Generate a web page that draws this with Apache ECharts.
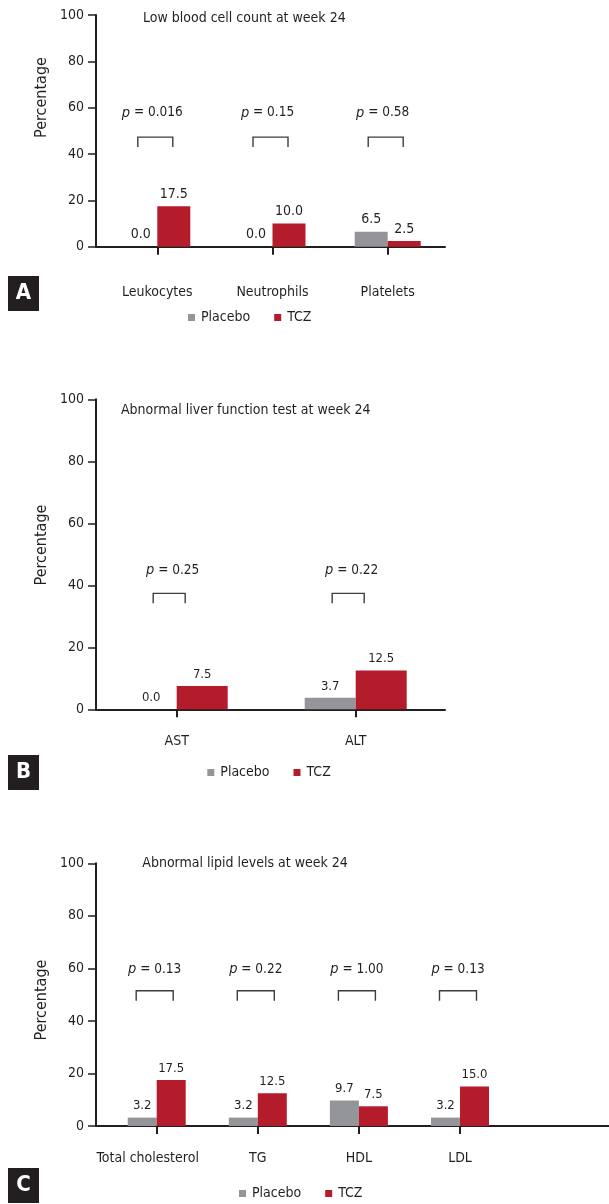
<!DOCTYPE html>
<html>
<head>
<meta charset="utf-8">
<script src="https://cdn.jsdelivr.net/npm/echarts@6/dist/echarts.min.js"></script>
<style>html,body{margin:0;padding:0;background:#fff}#c{width:609px;height:1204px}</style>
</head>
<body>
<div id="c"></div>
<script>
// ---- data ----
const catsA = ['Leukocytes', 'Neutrophils', 'Platelets'];
const placeboA = [0.0, 0.0, 6.5];
const tczA = [17.5, 10.0, 2.5];
const pA = ['0.016', '0.15', '0.58'];

const catsB = ['AST', 'ALT'];
const placeboB = [0.0, 3.7];
const tczB = [7.5, 12.5];
const pB = ['0.25', '0.22'];

const catsC = ['Total cholesterol', 'TG', 'HDL', 'LDL'];
const placeboC = [3.2, 3.2, 9.7, 3.2];
const tczC = [17.5, 12.5, 7.5, 15.0];
const pC = ['0.13', '0.22', '1.00', '0.13'];

const titles = ['Low blood cell count at week 24', 'Abnormal liver function test at week 24', 'Abnormal lipid levels at week 24'];
const letters = ['A', 'B', 'C'];
const seriesNames = ['Placebo', 'TCZ'];
const yMin = 0, yMax = 100, yStep = 20;

// ---- styles / layout ----
const FONT = "'DejaVu Sans Condensed','Liberation Sans Narrow','Liberation Sans',sans-serif";
const INK = '#231f20';
const GRAY = '#939598';
const RED = '#b41b2b';
const FS = 14;

const panels = [
  { cats: catsA, placebo: placeboA, tcz: tczA, p: pA,
    top: 15, bottom: 246.7, axisEnd: 445, barLeft: 99.7, barGridW: 345.6, barW: 33, labelMargin: 39,
    titleX: 143, titleY: 19, nameY: 97.5, boxY: 276, legendLeft: 188, legendTop: 310.5, valFont: 14,
    labelPad: [], br: { top: 47.3, w: 35, shift: -2, pY: 57.8, pShift: -5 } },
  { cats: catsB, placebo: placeboB, tcz: tczB, p: pB,
    top: 399.3, bottom: 709.3, axisEnd: 445, barLeft: 87.2, barGridW: 358, barW: 51, labelMargin: 25.4,
    titleX: 121, titleY: 411.7, nameY: 545, boxY: 755, legendLeft: 207.3, legendTop: 765.5, valFont: 13,
    labelPad: [], br: { top: 37.4, w: 32, shift: -7.5, pY: 44.8, pShift: -4 } },
  { cats: catsC, placebo: placeboC, tcz: tczC, p: pC,
    top: 863.3, bottom: 1126, axisEnd: 609, barLeft: 106.15, barGridW: 404.4, barW: 29, labelMargin: 25.3,
    titleX: 142.3, titleY: 864.3, nameY: 1000, boxY: 1168, legendLeft: 239, legendTop: 1186.5, valFont: 13,
    labelPad: [18], br: { top: 51.5, w: 37, shift: -2, pY: 59.5, pShift: -2 } }
];

const grid = [], xAxis = [], yAxis = [], series = [], legend = [], graphic = [];

panels.forEach((P, k) => {
  const h = P.bottom - P.top;
  // axis grid (full axis line + y ticks)
  const ga = grid.length;
  grid.push({ left: 96, top: P.top, width: P.axisEnd - 96, height: h });
  xAxis.push({ gridIndex: ga, type: 'value', min: 0, max: 1, axisLine: { show: true, onZero: false, lineStyle: { color: INK, width: 2 } },
    axisTick: { show: false }, axisLabel: { show: false }, splitLine: { show: false } });
  yAxis.push({ gridIndex: ga, type: 'value', min: yMin, max: yMax, interval: yStep,
    axisLine: { show: true, lineStyle: { color: INK, width: 2 } },
    axisTick: { show: true, length: 8, lineStyle: { color: INK, width: 1.5 } },
    axisLabel: { margin: 12, color: INK, fontSize: FS, fontFamily: FONT },
    splitLine: { show: false } });
  // bar grid
  const gb = grid.length;
  grid.push({ left: P.barLeft, top: P.top, width: P.barGridW, height: h });
  const catData = P.cats.map((c, i) => P.labelPad[i] ? { value: c, textStyle: { padding: [0, P.labelPad[i], 0, 0] } } : c);
  xAxis.push({ gridIndex: gb, type: 'category', data: catData, boundaryGap: true,
    axisLine: { show: false },
    axisTick: { show: true, alignWithLabel: true, length: 8, lineStyle: { color: INK, width: 2 } },
    axisLabel: { margin: P.labelMargin, color: INK, fontSize: FS, fontFamily: FONT, interval: 0 } });
  yAxis.push({ gridIndex: gb, type: 'value', min: yMin, max: yMax, interval: yStep, show: false });
  const xb = xAxis.length - 1, yb = yAxis.length - 1;

  const lbl = {
    show: true, position: 'top', distance: 5, color: INK, fontSize: P.valFont, fontFamily: FONT,
    formatter: (d) => d.value.toFixed(1)
  };
  series.push({ name: seriesNames[0], type: 'bar', xAxisIndex: xb, yAxisIndex: yb, data: P.placebo,
    barWidth: P.barW, barGap: '0%', itemStyle: { color: GRAY }, label: lbl, silent: true });
  series.push({ name: seriesNames[1], type: 'bar', xAxisIndex: xb, yAxisIndex: yb, data: P.tcz,
    barWidth: P.barW, barGap: '0%', itemStyle: { color: RED }, label: lbl, silent: true });

  const br = P.br;
  series.push({ name: 'p' + k, type: 'custom', xAxisIndex: xb, yAxisIndex: yb, clip: false, silent: true,
    data: P.p.map((v, i) => [i, v]),
    renderItem: (params, api) => {
      const i = api.value(0);
      const pt = api.coord([i, br.top]);
      const tp = api.coord([i, br.pY]);
      const cx = pt[0] + br.shift, half = br.w / 2, y0 = pt[1], y1 = pt[1] + 10;
      return { type: 'group', children: [
        { type: 'polyline', shape: { points: [[cx - half, y1], [cx - half, y0], [cx + half, y0], [cx + half, y1]] },
          style: { stroke: '#3d3d3d', lineWidth: 1.4, fill: null } },
        { type: 'text', x: tp[0] + br.pShift, y: tp[1],
          style: { text: '{i|p} = ' + P.p[i], align: 'center', verticalAlign: 'middle', fill: INK,
            font: '13.5px ' + FONT,
            rich: { i: { fontStyle: 'italic', fontSize: 14.5, fontFamily: FONT, fill: INK } } } }
      ] };
    } });

  legend.push({ data: seriesNames, left: P.legendLeft, top: P.legendTop, padding: 0, icon: 'rect',
    itemWidth: 7, itemHeight: 7, itemGap: 24, selectedMode: false,
    textStyle: { color: INK, fontSize: FS, fontFamily: FONT, padding: [0, 0, 0, 1] } });

  graphic.push({ type: 'text', left: P.titleX, top: P.titleY - 8,
    style: { text: titles[k], fill: INK, font: FS + 'px ' + FONT } });
  graphic.push({ type: 'text', x: 41.7, y: P.nameY, rotation: Math.PI / 2,
    style: { text: 'Percentage', fill: INK, font: '16px ' + FONT, align: 'center', verticalAlign: 'middle' } });
  graphic.push({ type: 'rect', shape: { x: 8, y: P.boxY, width: 31, height: 35 }, style: { fill: INK } });
  graphic.push({ type: 'text', x: 23.5, y: P.boxY + 17.5,
    style: { text: letters[k], fill: '#fff', font: 'bold 22px ' + FONT, align: 'center', verticalAlign: 'middle' } });
});

const chart = echarts.init(document.getElementById('c'), null, { renderer: 'canvas' });
chart.setOption({ animation: false, backgroundColor: '#fff', grid, xAxis, yAxis, series, legend, graphic });
</script>
</body>
</html>
